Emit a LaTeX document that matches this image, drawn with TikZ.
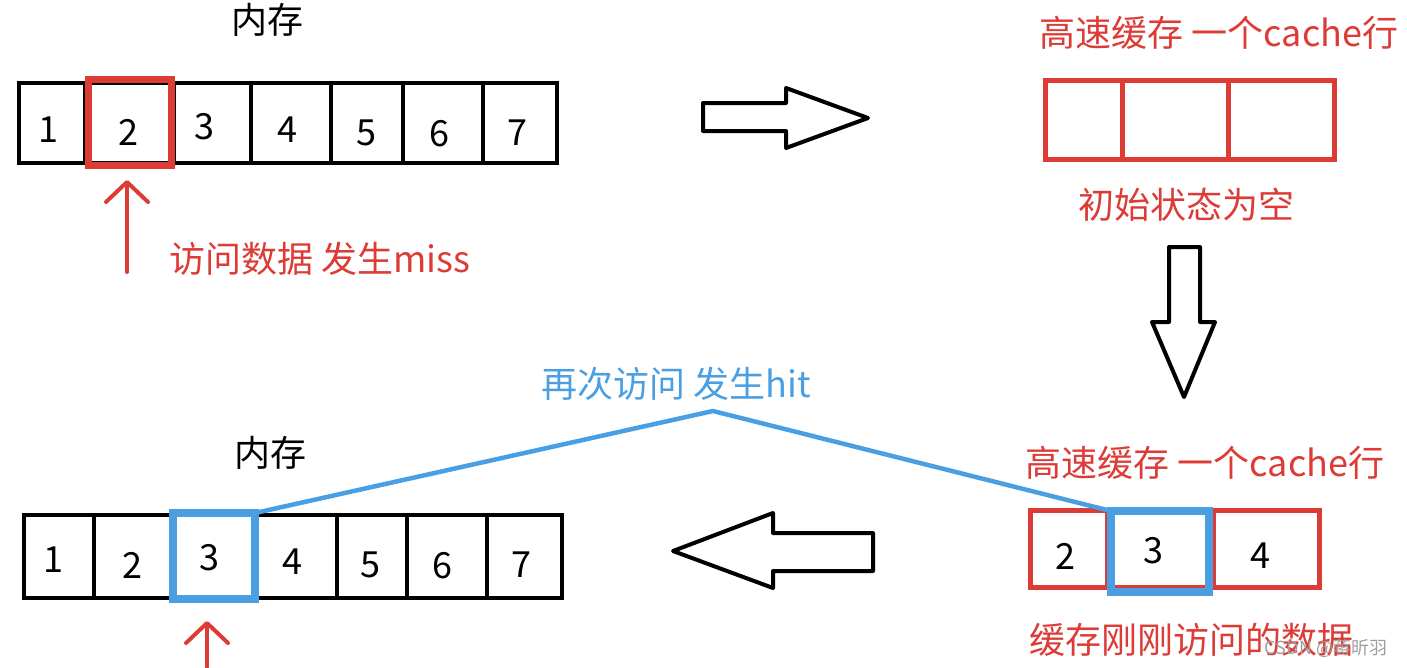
\documentclass[tikz,border=0pt]{standalone}
\usepackage{fontspec}
\setmainfont{Noto Sans CJK SC}
\usetikzlibrary{arrows.meta}
\definecolor{cred}{HTML}{DC3B36}
\definecolor{cblue}{HTML}{4A9FE2}
\newcommand{\mycell}[6]{\node[#6, minimum width={#3-#2}, minimum height={#5-#4}] (#1) at ({(#2+#3)/2},{(#4+#5)/2}) {};}
\begin{document}
\begin{tikzpicture}[x=1pt,y=-1pt,
  blk/.style={draw=black, line width=4pt, inner sep=0pt, outer sep=0pt},
  redcell/.style={draw=cred, line width=5pt, inner sep=0pt, outer sep=0pt},
  hlred/.style={draw=cred, line width=7pt, inner sep=0pt, outer sep=0pt},
  hlblue/.style={draw=cblue, line width=8pt, inner sep=0pt, outer sep=0pt},
  dig/.style={font=\fontsize{36}{40}\selectfont, inner sep=0pt},
  lbl/.style={font=\fontsize{36}{42}\selectfont, inner sep=0pt},
  barrow/.style={draw=black, line width=4pt, line join=round, fill=white},
  redarrow/.style={draw=cred, line width=4pt, line cap=round, -{Straight Barb[length=20pt,width=42pt,round]}},
  blueline/.style={draw=cblue, line width=4.5pt}
]
\useasboundingbox (0,0) rectangle (1407,667);

% ---------- top memory row ----------
\node[lbl] (memtitle1) at (267,20) {内存};
\mycell{ta1}{19}{85}{83}{163}{blk}
\mycell{ta2}{85}{174}{83}{163}{blk}
\mycell{ta3}{174}{251}{83}{163}{blk}
\mycell{ta4}{251}{331}{83}{163}{blk}
\mycell{ta5}{331}{403}{83}{163}{blk}
\mycell{ta6}{403}{483}{83}{163}{blk}
\mycell{ta7}{483}{557}{83}{163}{blk}
\mycell{hl1}{88.5}{171.5}{79.5}{165.5}{hlred}
\node[dig] (td1) at (48,130) {1};
\node[dig] (td2) at (128,132) {2};
\node[dig] (td3) at (204,127) {3};
\node[dig] (td4) at (287,130) {4};
\node[dig] (td5) at (366,133) {5};
\node[dig] (td6) at (439,134) {6};
\node[dig] (td7) at (517,133) {7};

\coordinate (s1) at (127,272);
\coordinate (t1) at (127,180);
\draw[redarrow] (s1) -- (t1);
\node[lbl, text=cred, anchor=west] (miss) at (169,259) {访问数据 发生miss};

% ---------- right block arrow ----------
\draw[barrow] (703,103) -- (786,103) -- (786,88) -- (868,118) -- (786,148) -- (786,131) -- (703,131) -- cycle;

% ---------- top cache ----------
\node[lbl, text=cred] (cachetitle1) at (1219,33) {高速缓存 一个cache行};
\mycell{ca1}{1045.5}{1122}{80.5}{159.5}{redcell}
\mycell{ca2}{1122}{1228}{80.5}{159.5}{redcell}
\mycell{ca3}{1228}{1334.5}{80.5}{159.5}{redcell}
\node[lbl, text=cred] (empty) at (1186,205) {初始状态为空};

% ---------- down block arrow ----------
\draw[barrow] (1169,247) -- (1200,247) -- (1200,322) -- (1215,322) -- (1184,397) -- (1152,322) -- (1169,322) -- cycle;

% ---------- bottom cache ----------
\node[lbl, text=cred] (cachetitle2) at (1205,463) {高速缓存 一个cache行};
\mycell{cb1}{1030.5}{1107}{510.5}{587.5}{redcell}
\mycell{cb2}{1107}{1213}{510.5}{587.5}{redcell}
\mycell{cb3}{1213}{1319.5}{510.5}{587.5}{redcell}
\mycell{hl3}{1111}{1209}{511}{592}{hlblue}
\node[dig] (cd2) at (1065,556) {2};
\node[dig] (cd3) at (1153,551) {3};
\node[dig] (cd4) at (1260,556) {4};
\node[lbl, text=cred] (recent) at (1191,640) {缓存刚刚访问的数据};

% ---------- left block arrow ----------
\draw[barrow] (873,533) -- (773,533) -- (773,513) -- (673,551) -- (773,588) -- (773,571) -- (873,571) -- cycle;

% ---------- bottom memory row ----------
\node[lbl] (memtitle2) at (270,453) {内存};
\mycell{ba1}{24}{94}{515}{598}{blk}
\mycell{ba2}{94}{171}{515}{598}{blk}
\mycell{ba3}{171}{257}{515}{598}{blk}
\mycell{ba4}{257}{337}{515}{598}{blk}
\mycell{ba5}{337}{407}{515}{598}{blk}
\mycell{ba6}{407}{487}{515}{598}{blk}
\mycell{ba7}{487}{562}{515}{598}{blk}
\mycell{hl2}{173}{255}{513}{599}{hlblue}
\node[dig] (bd1) at (53,560) {1};
\node[dig] (bd2) at (132,565) {2};
\node[dig] (bd3) at (209,558) {3};
\node[dig] (bd4) at (292,562) {4};
\node[dig] (bd5) at (370,565) {5};
\node[dig] (bd6) at (442,566) {6};
\node[dig] (bd7) at (521,565) {7};

\coordinate (s2) at (207,667);
\coordinate (t2) at (207,621);
\draw[redarrow] (s2) -- (t2);

% ---------- hit label and lines ----------
\node[lbl, text=cblue] (hit) at (676,384) {再次访问 发生hit};
\coordinate (apex) at (713,411);
\draw[blueline, line join=round] (hl2.north east) -- (apex) -- (hl3.north west);

% ---------- watermark ----------
\node[font=\fontsize{18}{20}\selectfont, text=gray!75, inner sep=0pt] (wm) at (1326,648) {CSDN @蒋昕羽};
\end{tikzpicture}
\end{document}
